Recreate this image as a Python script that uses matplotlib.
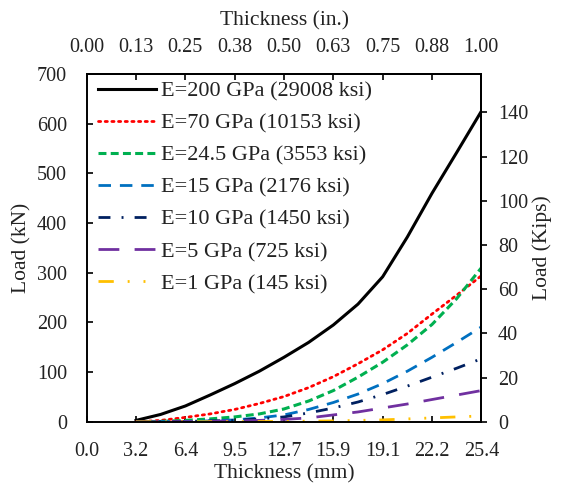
"""
Load vs. plate thickness for several elastic moduli.
Dual units: mm / kN on the primary axes, in. / kips on the secondary ones.
"""

import matplotlib
matplotlib.use("Agg")
import matplotlib.pyplot as plt

# ── Data ──────────────────────────────────────────────────────────────────────
THICKNESS_MM = [3.175, 4.7625, 6.35, 7.9375, 9.525, 11.1125, 12.7, 14.2875,
                15.875, 17.4625, 19.05, 20.6375, 22.225, 23.8125, 25.4]

LOAD_E200 = [3, 15, 32, 54, 77, 102, 130, 160, 195, 237, 292, 372, 460, 542, 625]
LOAD_E70 = [0, 3, 9, 16, 25, 37, 51, 69, 91, 117, 145, 178, 217, 255, 294]
LOAD_E24_5 = [0, 1, 3, 6, 10, 16, 26, 42, 63, 90, 120, 155, 196, 248, 310]
LOAD_E15 = [0, 0.5, 1, 2, 4, 8, 14, 25, 39, 56, 77, 102, 130, 160, 191]
LOAD_E10 = [0, 0.3, 1, 2, 3, 6, 10, 18, 28, 40, 55, 72, 90, 108, 127]
LOAD_E5 = [0, 0.2, 0.5, 1, 2, 3, 5, 8, 14, 20, 28, 36, 45, 54, 63]
LOAD_E1 = [0, 0.1, 0.2, 0.3, 0.5, 0.7, 1, 1.5, 2, 3, 4, 6, 8, 10, 12]

SERIES_LABELS = [
    "E=200 GPa (29008 ksi)",
    "E=70 GPa (10153 ksi)",
    "E=24.5 GPa (3553 ksi)",
    "E=15 GPa (2176 ksi)",
    "E=10 GPa (1450 ksi)",
    "E=5 GPa (725 ksi)",
    "E=1 GPa (145 ksi)",
]

MM_TICKS = [0.0, 3.175, 6.35, 9.525, 12.7, 15.875, 19.05, 22.225, 25.4]
MM_TICK_LABELS = ["0.0", "3.2", "6.4", "9.5", "12.7", "15.9", "19.1", "22.2", "25.4"]
IN_TICKS = [0.0, 0.125, 0.25, 0.375, 0.5, 0.625, 0.75, 0.875, 1.0]
IN_TICK_LABELS = ["0.00", "0.13", "0.25", "0.38", "0.50", "0.63", "0.75", "0.88", "1.00"]
KN_TICKS = [0, 100, 200, 300, 400, 500, 600, 700]
KIP_TICKS = [0, 20, 40, 60, 80, 100, 120, 140]

KN_PER_KIP = 4.448
MM_PER_IN = 25.4

# ── Styles (Excel-ish palette) ────────────────────────────────────────────────
STYLES = [
    dict(color="#000000", lw=2.2, ls="-"),
    dict(color="#FF0000", lw=2.0, ls=(0, (0.8, 1.6)), dash_capstyle="round"),
    dict(color="#00B050", lw=2.2, ls=(0, (2.6, 1.4))),
    dict(color="#0070C0", lw=2.0, ls=(0, (4.5, 3.2))),
    dict(color="#002060", lw=2.0, ls=(0, (4.3, 4.0, 0.7, 4.0))),
    dict(color="#7030A0", lw=2.0, ls=(0, (7.5, 5.5))),
    dict(color="#FFC000", lw=2.0, ls=(0, (5.5, 5.0, 0.7, 5.0, 0.7, 5.0))),
]

TICK_FS = 14.5
LABEL_FS = 15.5
LEGEND_FS = 16

plt.rcParams.update({
    "font.family": "Liberation Serif",
    "font.size": TICK_FS,
    "axes.linewidth": 1.4,
    "xtick.major.width": 1.4,
    "ytick.major.width": 1.4,
    "xtick.major.size": 4,
    "ytick.major.size": 4,
    "text.color": "#222222",
    "xtick.color": "#222222",
    "ytick.color": "#222222",
    "axes.labelcolor": "#222222",
})


def main() -> None:
    fig = plt.figure(figsize=(5.61, 4.90), dpi=100)
    ax = fig.add_axes([0.1545, 0.139, 0.7035, 0.710])

    series = [LOAD_E200, LOAD_E70, LOAD_E24_5, LOAD_E15, LOAD_E10, LOAD_E5, LOAD_E1]
    for load, label, style in zip(series, SERIES_LABELS, STYLES):
        ax.plot(THICKNESS_MM, load, label=label, **style)

    ax.set_xlim(0, 25.4)
    ax.set_ylim(0, 700)
    ax.set_xticks(MM_TICKS)
    ax.set_xticklabels(MM_TICK_LABELS)
    ax.set_yticks(KN_TICKS)
    ax.tick_params(axis="x", direction="in", pad=14.5)
    ax.tick_params(axis="y", direction="in", pad=14)
    ax.set_xlabel("Thickness (mm)", fontsize=LABEL_FS, labelpad=2)
    ax.set_ylabel("Load (kN)", fontsize=LABEL_FS, labelpad=4)

    # secondary axes: inches on top, kips on the right
    top = ax.secondary_xaxis("top", functions=(lambda mm: mm / MM_PER_IN,
                                               lambda inch: inch * MM_PER_IN))
    top.set_xticks(IN_TICKS)
    top.set_xticklabels(IN_TICK_LABELS)
    top.tick_params(direction="in", pad=12)
    top.set_xlabel("Thickness (in.)", fontsize=LABEL_FS, labelpad=9)

    right = ax.secondary_yaxis("right", functions=(lambda kn: kn / KN_PER_KIP,
                                                   lambda kip: kip * KN_PER_KIP))
    right.set_yticks(KIP_TICKS)
    right.tick_params(direction="out", pad=8)
    right.set_ylabel("Load (Kips)", fontsize=LABEL_FS, labelpad=3)

    ax.legend(loc="upper left", frameon=False, fontsize=LEGEND_FS,
              handlelength=2.6, handletextpad=0.25, labelspacing=0.52,
              borderaxespad=0.2, borderpad=0.3, bbox_to_anchor=(0.0, 1.012))

    fig.savefig("out.png", dpi=100)
    plt.close(fig)


if __name__ == "__main__":
    main()
